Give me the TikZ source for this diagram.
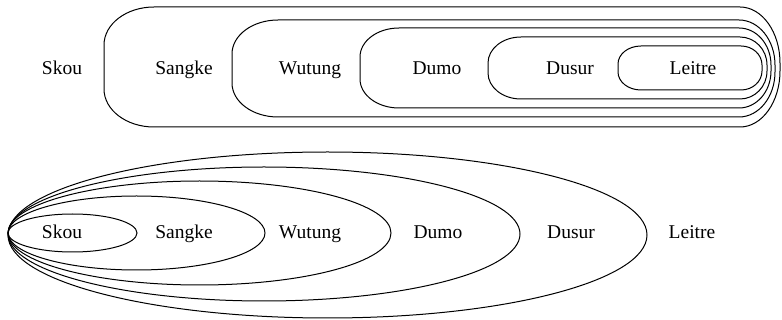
\documentclass[tikz,border=0pt]{standalone}
\usepackage{fontspec}
\setmainfont{Liberation Serif}
\tikzset{
  box/.style={draw=black, line width=1pt},
  lbl/.style={anchor=base, inner sep=0pt, font=\fontsize{19.5}{23}\selectfont}
}
% rounded box with elliptical corners:
% #1,#2 = left,top  #3,#4 = right,bottom  #5,#6 = left corner radii  #7,#8 = right corner radii
\newcommand\capsulebox[8]{%
  \draw[box] (#1+#5,#2) -- (#3-#7,#2)
    .. controls +(0.5523*#7,0) and +(0,-0.5523*#8) .. (#3,#2+#8)
    -- (#3,#4-#8)
    .. controls +(0,0.5523*#8) and +(0.5523*#7,0) .. (#3-#7,#4)
    -- (#1+#5,#4)
    .. controls +(-0.5523*#5,0) and +(0,0.5523*#6) .. (#1,#4-#6)
    -- (#1,#2+#6)
    .. controls +(0,-0.5523*#6) and +(-0.5523*#5,0) .. (#1+#5,#2)
    -- cycle;}
\begin{document}
\begin{tikzpicture}[x=1pt,y=-1pt]
\useasboundingbox (0,0) rectangle (782,320);

% upper diagram: nested rounded boxes
\capsulebox{104}{7}{780}{127}{50}{38}{40}{56}
\capsulebox{232}{20}{775}{117}{46}{34}{36}{45}
\capsulebox{360}{28}{771}{108}{39}{29}{32}{37}
\capsulebox{488}{37}{767}{99}{33}{26}{27}{28}
\capsulebox{618}{46}{762}{90}{23}{18}{21}{19}

\node[lbl] (t1) at (62,75) {Skou};
\node[lbl] (t2) at (184,75) {Sangke};
\node[lbl] (t3) at (310,75) {Wutung};
\node[lbl] (t4) at (437,75) {Dumo};
\node[lbl] (t5) at (570,75) {Dusur};
\node[lbl] (t6) at (693,75) {Leitre};

% lower diagram: nested ellipses sharing their leftmost point
\draw[box] (72.5,233) ellipse [x radius=64.5, y radius=19];
\draw[box] (136.5,233) ellipse [x radius=128.5, y radius=37];
\draw[box] (199.5,233) ellipse [x radius=191.5, y radius=52];
\draw[box] (264,234) ellipse [x radius=256, y radius=67];
\draw[box] (327.5,235) ellipse [x radius=319.5, y radius=83];

\node[lbl] (b1) at (62,239) {Skou};
\node[lbl] (b2) at (184,239) {Sangke};
\node[lbl] (b3) at (310,239) {Wutung};
\node[lbl] (b4) at (438,239) {Dumo};
\node[lbl] (b5) at (571,239) {Dusur};
\node[lbl] (b6) at (692,239) {Leitre};
\end{tikzpicture}
\end{document}
